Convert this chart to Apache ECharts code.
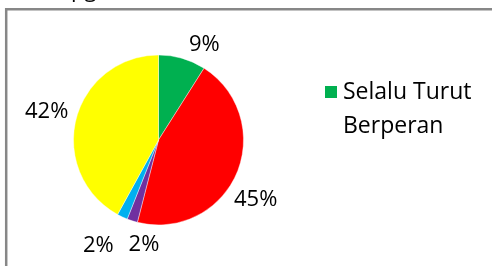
<!DOCTYPE html>
<html>
<head>
<meta charset="utf-8">
<script src="https://cdn.jsdelivr.net/npm/echarts@6/dist/echarts.min.js"></script>
<style>
html,body{margin:0;padding:0;background:#fff;}
#c{width:492px;height:266px;}
</style>
</head>
<body>
<div id="c"></div>
<script>
const categories = ['Selalu Turut Berperan', 'Sering Turut Berperan', 'Kadang-kadang', 'Jarang', 'Tidak Pernah'];
const values = [9, 45, 2, 2, 42];
const colors = ['#00B050', '#FF0000', '#7030A0', '#00B0F0', '#FFFF00'];
const legendShown = ['Selalu Turut Berperan'];

// label nudges (style only)
const labelNudge = [[0, -8], [-13, 24], [34, 18], [-1, 23], [3, -6]];

const FONT = '"Open Sans", sans-serif';
const chart = echarts.init(document.getElementById('c'), null, {renderer: 'canvas'});
chart.setOption({
  animation: false,
  backgroundColor: '#fff',
  graphic: [
    {type: 'rect', shape: {x: 6.2, y: 9.3, width: 700, height: 400},
     style: {fill: 'none', stroke: '#878787', lineWidth: 2.5}, silent: true, z: -1},
    {type: 'text', left: 71, top: -20,
     style: {text: 'pg', font: '22px ' + FONT, fill: '#000'}}
  ],
  legend: {
    data: legendShown,
    left: 323, top: 41,
    padding: 0,
    orient: 'vertical',
    itemWidth: 14, itemHeight: 14,
    icon: 'rect',
    selectedMode: false,
    formatter: function (n) { return '\n' + n.replace('Turut ', 'Turut\n'); },
    textStyle: {fontFamily: FONT, fontSize: 23, color: '#000', lineHeight: 34}
  },
  series: [{
    type: 'pie',
    center: [158.5, 140],
    radius: 85,
    startAngle: 90,
    clockwise: true,
    avoidLabelOverlap: false,
    itemStyle: {borderColor: '#fff', borderWidth: 0.4},
    label: {
      show: true, position: 'outside', formatter: '{d}%',
      fontFamily: FONT, fontSize: 22, color: '#000'
    },
    labelLine: {show: false, length: 6, length2: 0},
    labelLayout: function (p) {
      const d = labelNudge[p.dataIndex];
      return {dx: d[0], dy: d[1], hideOverlap: false, moveOverlap: null};
    },
    data: categories.map((n, i) => ({name: n, value: values[i], itemStyle: {color: colors[i]}}))
  }]
});
</script>
</body>
</html>
